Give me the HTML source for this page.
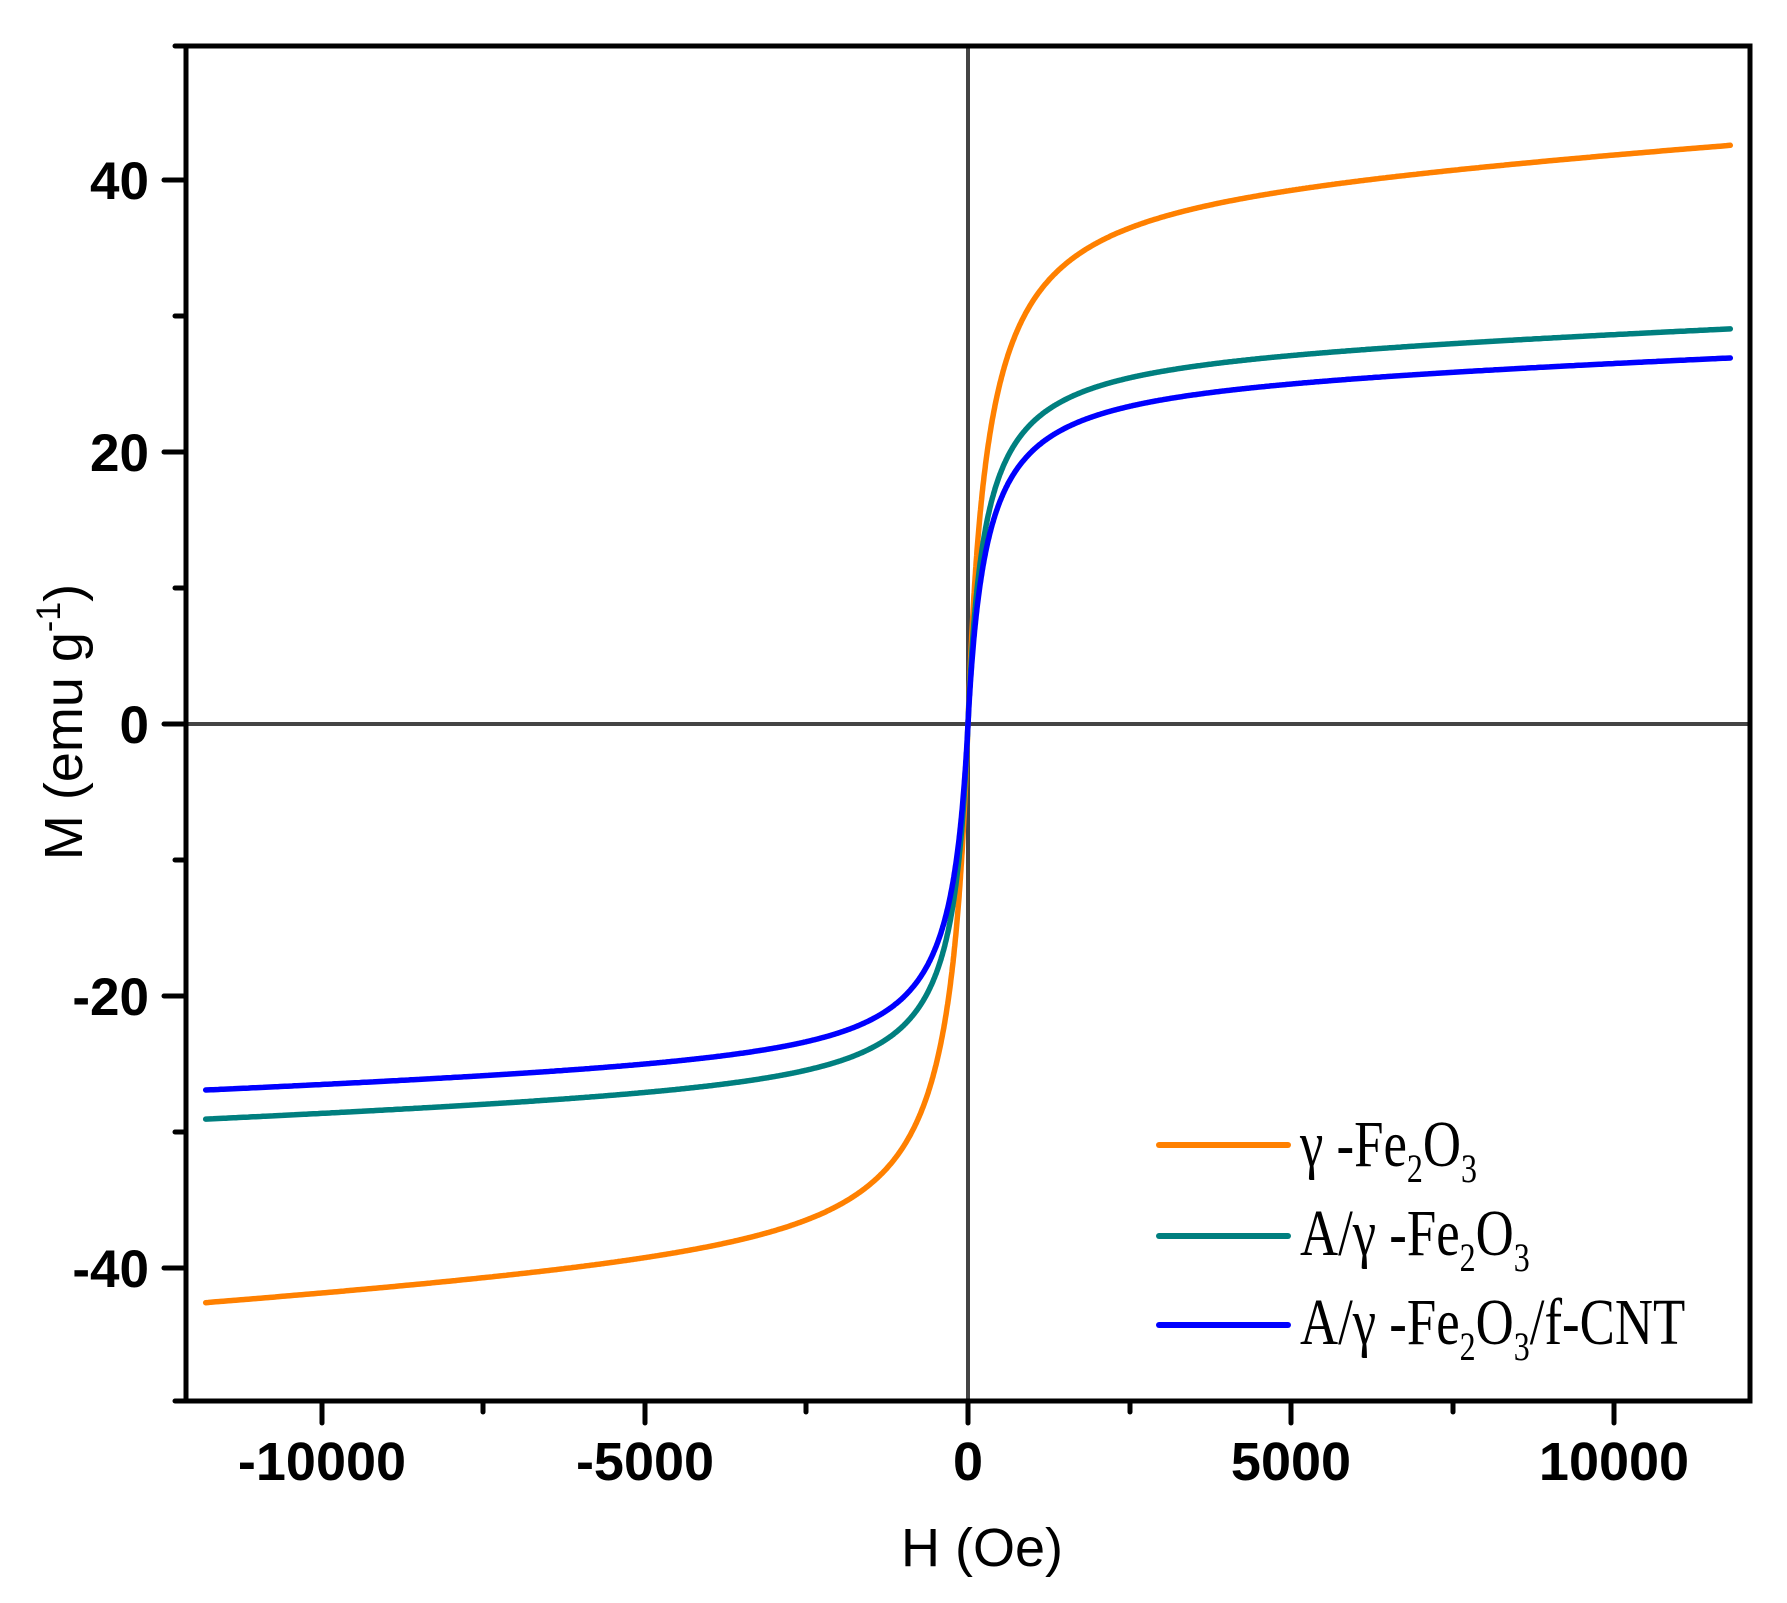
<!DOCTYPE html>
<html><head><meta charset="utf-8"><style>
html,body{margin:0;padding:0;background:#fff;}
svg{display:block;}
</style></head><body>
<svg id="s" width="1787" height="1603" viewBox="0 0 1787 1603" xmlns="http://www.w3.org/2000/svg">
<rect width="1787" height="1603" fill="#fff"/>
<!-- zero lines -->
<line x1="186" y1="724" x2="1750" y2="724" stroke="#444" stroke-width="4"/>
<line x1="968" y1="46" x2="968" y2="1401" stroke="#444" stroke-width="4"/>
<g id="curves" fill="none" stroke-width="5.5" stroke-linejoin="round" stroke-linecap="round"></g>
<!-- frame -->
<rect x="186" y="46" width="1564" height="1355" fill="none" stroke="#000" stroke-width="5"/>
<g stroke="#000" stroke-width="5" stroke-linecap="round">
<line x1="164" y1="180" x2="186" y2="180"/>
<line x1="164" y1="452" x2="186" y2="452"/>
<line x1="164" y1="724" x2="186" y2="724"/>
<line x1="164" y1="996" x2="186" y2="996"/>
<line x1="164" y1="1268" x2="186" y2="1268"/>
<line x1="175" y1="46" x2="186" y2="46"/>
<line x1="175" y1="316" x2="186" y2="316"/>
<line x1="175" y1="588" x2="186" y2="588"/>
<line x1="175" y1="860" x2="186" y2="860"/>
<line x1="175" y1="1132" x2="186" y2="1132"/>
<line x1="322" y1="1401" x2="322" y2="1423"/>
<line x1="645" y1="1401" x2="645" y2="1423"/>
<line x1="968" y1="1401" x2="968" y2="1423"/>
<line x1="1291" y1="1401" x2="1291" y2="1423"/>
<line x1="1614" y1="1401" x2="1614" y2="1423"/>
<line x1="483" y1="1401" x2="483" y2="1412"/>
<line x1="806" y1="1401" x2="806" y2="1412"/>
<line x1="1130" y1="1401" x2="1130" y2="1412"/>
<line x1="1453" y1="1401" x2="1453" y2="1412"/>
<line x1="175" y1="1401" x2="186" y2="1401"/>
</g>
<g font-family="Liberation Sans, sans-serif" font-weight="bold" font-size="53" fill="#000" text-anchor="end">
<text x="149" y="199">40</text>
<text x="149" y="471">20</text>
<text x="149" y="743">0</text>
<text x="149" y="1015">-20</text>
<text x="149" y="1287">-40</text>
</g>
<g font-family="Liberation Sans, sans-serif" font-weight="bold" font-size="54" fill="#000" text-anchor="middle">
<text x="322" y="1480">-10000</text>
<text x="645" y="1480">-5000</text>
<text x="968" y="1480">0</text>
<text x="1291" y="1480">5000</text>
<text x="1614" y="1480">10000</text>
</g>
<text x="982" y="1566" font-family="Liberation Sans, sans-serif" font-size="54" text-anchor="middle">H (Oe)</text>
<text transform="translate(82,722) rotate(-90)" font-family="Liberation Sans, sans-serif" font-size="54" text-anchor="middle">M (emu g<tspan dy="-22" font-size="34">-1</tspan><tspan dy="22">)</tspan></text>
<!-- legend -->
<g stroke-width="6" stroke-linecap="round">
<line x1="1159" y1="1145" x2="1288" y2="1145" stroke="#ff8000"/>
<line x1="1159" y1="1236" x2="1288" y2="1236" stroke="#007f7f"/>
<line x1="1159" y1="1325" x2="1288" y2="1325" stroke="#0000ff"/>
</g>
<g font-family="Liberation Serif, serif" font-size="66" fill="#000">
<text transform="translate(1300,1166) scale(0.8,1)">γ -Fe<tspan dy="16" font-size="40">2</tspan><tspan dy="-16">O</tspan><tspan dy="16" font-size="40">3</tspan></text>
<text transform="translate(1300,1255) scale(0.8,1)">A/γ -Fe<tspan dy="16" font-size="40">2</tspan><tspan dy="-16">O</tspan><tspan dy="16" font-size="40">3</tspan></text>
<text transform="translate(1300,1344) scale(0.8,1)">A/γ -Fe<tspan dy="16" font-size="40">2</tspan><tspan dy="-16">O</tspan><tspan dy="16" font-size="40">3</tspan><tspan dy="-16">/f-CNT</tspan></text>
</g>
</svg>
<script>
(function(){
var g=document.getElementById('curves');
var series=[
 {c:'#0000ff',Ms:25.5,h:280,k:1.7e-4},
 {c:'#007f7f',Ms:27.5,h:250,k:1.8e-4},
 {c:'#ff8000',Ms:40,h:300,k:3.0e-4}
];
series.reverse();
series.forEach(function(s){
 var d='';
 for(var i=0;i<=1200;i++){
  var t=-1+2*i/1200;
  var H=11800*Math.sign(t)*Math.pow(Math.abs(t),2);
  var M=s.Ms*H/(Math.abs(H)+s.h)+s.k*H;
  var x=968+H*323/5000, y=724-M*13.6;
  d+=(i?'L':'M')+x.toFixed(1)+' '+y.toFixed(1);
 }
 var p=document.createElementNS('http://www.w3.org/2000/svg','path');
 p.setAttribute('d',d);p.setAttribute('stroke',s.c);
 g.appendChild(p);
});
})();
</script>
</body></html>
